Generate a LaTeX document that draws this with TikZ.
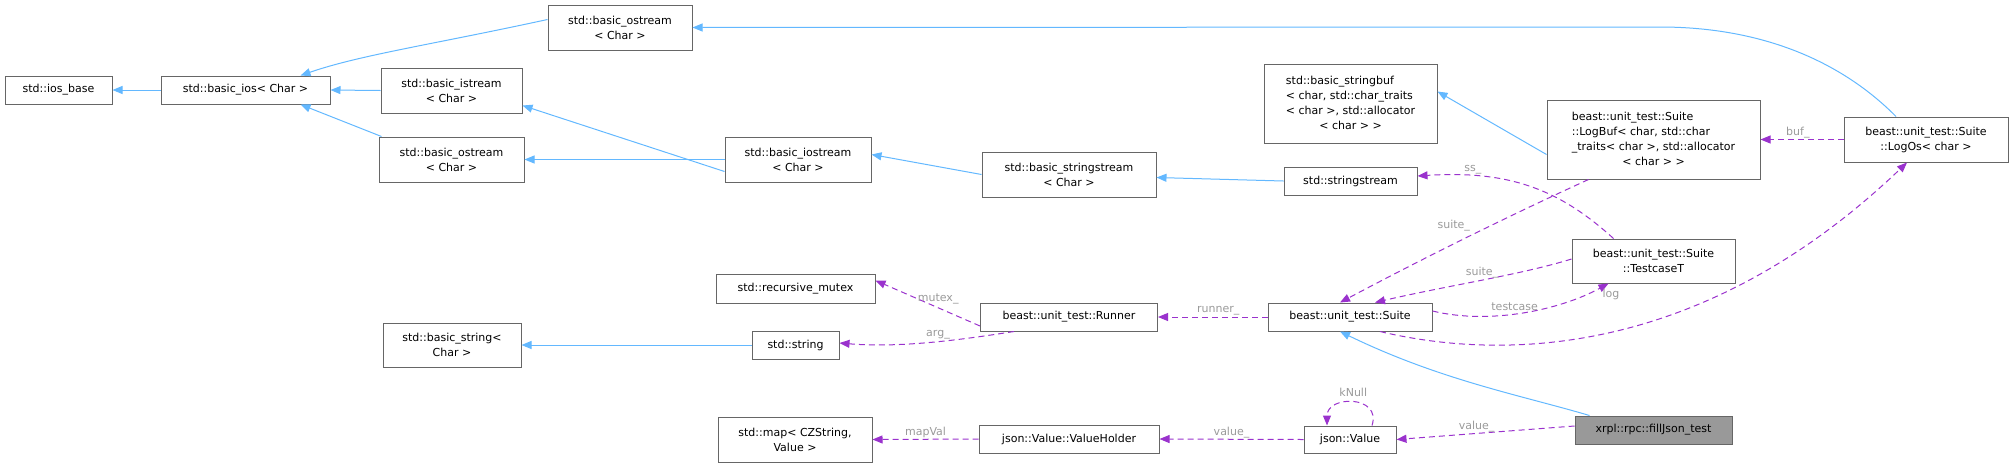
\documentclass[tikz,border=0pt]{standalone}
\usepackage{fontspec}
\setmainfont{DejaVu Sans}
\usetikzlibrary{arrows.meta}
\definecolor{eblue}{HTML}{63B8FF}
\definecolor{epurp}{HTML}{9A32CD}
\definecolor{bgray}{HTML}{666666}
\definecolor{lgray}{HTML}{9A9A9A}
\definecolor{fgray}{HTML}{999999}
\begin{document}
\begin{tikzpicture}[x=1pt,y=-1pt,
  box/.style={draw=bgray,line width=1pt,fill=white,inner sep=0pt,align=center,font=\fontsize{11}{15}\selectfont},
  inh/.style={draw=eblue,line width=1pt,-{Triangle[length=10pt,width=8pt]}},
  use/.style={draw=epurp,line width=1pt,dash pattern=on 6pt off 4pt,-{Triangle[length=10pt,width=8pt]}},
  lab/.style={text=lgray,font=\fontsize{11}{13}\selectfont,inner sep=1pt}]
\useasboundingbox (0,0) rectangle (2013,467);
\newcommand\bx[6]{\node[box,minimum width=#4pt,minimum height=#5pt] (#1) at (#2,#3) {#6};}
\bx{iosbase}{58.5}{90}{107}{28}{std::ios\_base}
\bx{basicios}{245.5}{90}{169}{28}{std::basic\_ios< Char >}
\bx{ostreamTop}{620}{27.5}{144}{45}{std::basic\_ostream\\< Char >}
\bx{istream}{451.5}{90.5}{141}{45}{std::basic\_istream\\< Char >}
\bx{ostreamB}{451.5}{159.5}{145}{45}{std::basic\_ostream\\< Char >}
\bx{iostream}{798}{159.5}{146}{45}{std::basic\_iostream\\< Char >}
\bx{bsstream}{1069}{174.5}{174}{45}{std::basic\_stringstream\\< Char >}
\bx{sstream}{1350.5}{181}{133}{28}{std::stringstream}
\bx{stringbuf}{1350.5}{103.5}{173}{79}{\begin{tabular}{@{}l@{}}std::basic\_stringbuf\\< char, std::char\_traits\\< char >, std::allocator\\\multicolumn{1}{@{}c@{}}{< char > >}\end{tabular}}
\bx{logbuf}{1653.5}{139.5}{213}{79}{\begin{tabular}{@{}l@{}}beast::unit\_test::Suite\\::LogBuf< char, std::char\\\_traits< char >, std::allocator\\\multicolumn{1}{@{}c@{}}{< char > >}\end{tabular}}
\bx{logos}{1926}{139.5}{164}{45}{beast::unit\_test::Suite\\::LogOs< char >}
\bx{testcase}{1653.5}{261}{163}{44}{beast::unit\_test::Suite\\::TestcaseT}
\bx{suite}{1350}{317}{164}{28}{beast::unit\_test::Suite}
\bx{runner}{1069}{317}{177}{28}{beast::unit\_test::Runner}
\bx{rmutex}{795.5}{288.5}{159}{29}{std::recursive\_mutex}
\bx{string}{795.5}{345}{87}{28}{std::string}
\bx{bstring}{452}{345}{138}{44}{std::basic\_string<\\Char >}
\bx{map}{795}{439.5}{154}{45}{std::map< CZString,\\Value >}
\bx{vholder}{1069}{439}{180}{28}{json::Value::ValueHolder}
\bx{jvalue}{1350}{439.5}{92}{27}{json::Value}
\node[box,fill=fgray,minimum width=157pt,minimum height=28pt] (fill) at (1653.5,430) {xrpl::rpc::fillJson\_test};
% inheritance
\draw[inh] (basicios) -- (iosbase);
\draw[inh] ([yshift=8pt]ostreamTop.west) .. controls (430,45) and (360,55) .. ([xshift=55pt]basicios.north);
\draw[inh] (istream.west) -- (basicios.east);
\draw[inh] ([xshift=3pt]ostreamB.north west) -- ([xshift=55pt]basicios.south);
\draw[inh] ([yshift=-12pt]iostream.west) -- ([yshift=-15pt]istream.east);
\draw[inh] (iostream.west) -- (ostreamB.east);
\draw[inh] (bsstream.west) -- ([yshift=5pt]iostream.east);
\draw[inh] (sstream.west) -- ([yshift=-3pt]bsstream.east);
\draw[inh] ([yshift=-15pt]logbuf.west) -- ([yshift=12pt]stringbuf.east);
\draw[inh] ([xshift=-30pt]logos.north) .. controls (1840,60) and (1760,27) .. (1660,27) -- (ostreamTop.east);
\draw[inh] (string.west) -- (bstring.east);
\draw[inh] ([xshift=15pt]fill.north west) .. controls (1520,395) and (1440,380) .. ([xshift=-10pt]suite.south);
% usage
\draw[use] (logos.west) -- node[lab,above,pos=0.55]{buf\_} (logbuf.east);
\draw[use] ([xshift=-40pt]testcase.north) .. controls (1560,190) and (1510,170) .. node[lab,pos=0.78,above]{ss\_} ([yshift=5pt]sstream.east);
\draw[use] ([xshift=-65pt]logbuf.south) .. controls (1500,220) and (1420,260) .. node[lab,pos=0.45,above left=2pt]{suite\_} ([xshift=-10pt]suite.north);
\draw[use] ([yshift=2pt]testcase.west) .. controls (1520,275) and (1450,285) .. node[lab,pos=0.5,above=1pt]{suite\_} ([xshift=25pt]suite.north);
\draw[use] ([yshift=6pt]suite.east) .. controls (1490,325) and (1560,310) .. node[lab,pos=0.45,above=2pt]{testcase} ([xshift=-45pt]testcase.south);
\draw[use] ([xshift=30pt]suite.south) .. controls (1500,360) and (1700,360) .. node[lab,pos=0.5,above=30pt]{log} ([xshift=-19pt]logos.south);
\draw[use] (suite.west) -- node[lab,above,pos=0.45]{runner\_} (runner.east);
\draw[use] ([yshift=-9pt]runner.west) -- node[lab,above=2pt,pos=0.4]{mutex\_} ([yshift=8pt]rmutex.east);
\draw[use] ([xshift=-55pt]runner.south) .. controls (960,340) and (900,348) .. node[lab,above=1pt,pos=0.45]{arg\_} ([yshift=2pt]string.east);
\draw[use] ([yshift=4pt]fill.west) -- node[lab,above,pos=0.55]{value\_} (jvalue.east);
\draw[use] ([xshift=22pt]jvalue.north) .. controls (1382,395) and (1327,395) .. node[lab,above=4pt,pos=0.5]{kNull} ([xshift=-23pt]jvalue.north);
\draw[use] (jvalue.west) -- node[lab,above,pos=0.5]{value\_} (vholder.east);
\draw[use] (vholder.west) -- node[lab,above,pos=0.5]{mapVal} (map.east);
\end{tikzpicture}
\end{document}
